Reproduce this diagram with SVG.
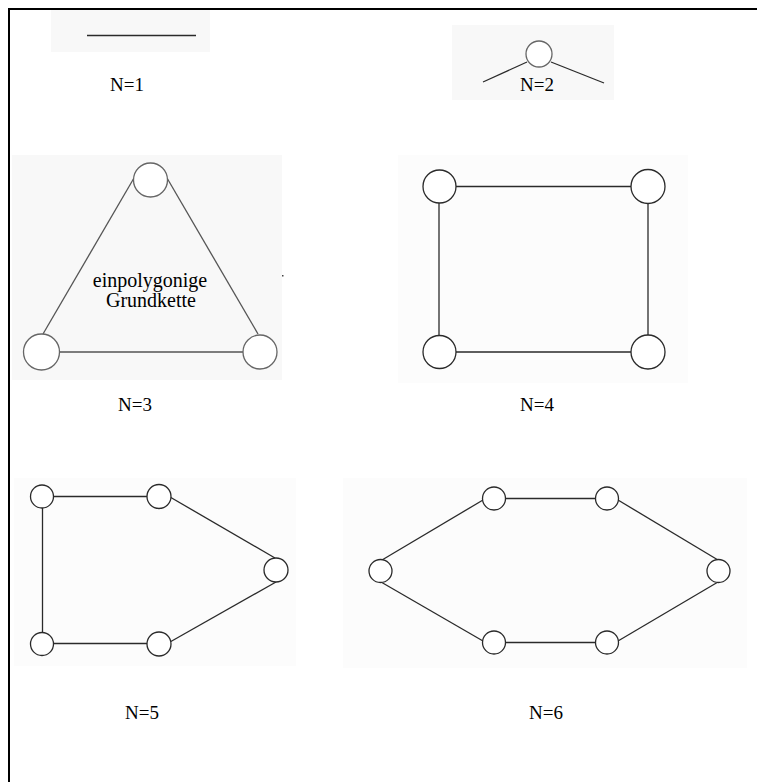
<svg xmlns="http://www.w3.org/2000/svg" width="757" height="782" viewBox="0 0 757 782">
  <style>
    .bg { fill: #f8f8f8; }
    .edge { stroke: #2a2a2a; stroke-width: 1.3; fill: none; }
    .edge.soft { stroke: #555; }
    .node { fill: #ffffff; stroke: #2a2a2a; stroke-width: 1.3; }
    .node.soft { stroke: #666; }
    .label { font-family: "Liberation Serif", "Times New Roman", serif; font-size: 19px; fill: #000; }
    .label.inner { font-size: 20px; }
  </style>

  <rect x="0" y="0" width="757" height="782" fill="#ffffff"/>

  <!-- frame: top and left rules -->
  <g id="frame">
    <line x1="9" y1="9" x2="757" y2="9" stroke="#000" stroke-width="2"/>
    <line x1="9" y1="8" x2="9" y2="782" stroke="#000" stroke-width="2"/>
  </g>

  <!-- pale panels behind the figures -->
  <g id="panels">
    <rect class="bg" x="51" y="10" width="159" height="42"/>
    <rect class="bg" x="452" y="25" width="162" height="75"/>
    <rect class="bg" x="12" y="155" width="270" height="225"/>
    <rect x="398" y="155" width="290" height="228" fill="#fcfcfc"/>
    <rect x="14" y="478" width="282" height="188" fill="#fcfcfc"/>
    <rect x="343" y="478" width="404" height="190" fill="#fcfcfc"/>
  </g>

  <!-- connectors -->
  <g id="connectors">
    <!-- N=1 -->
    <line class="edge" x1="87" y1="35.5" x2="196" y2="35.5" stroke="#777"/>
    <!-- N=2 -->
    <line class="edge" x1="483" y1="82" x2="527" y2="62"/>
    <line class="edge" x1="551" y1="62" x2="604" y2="83"/>
    <!-- N=3 -->
    <line class="edge soft" x1="43" y1="334" x2="134" y2="178"/>
    <line class="edge soft" x1="167" y1="178" x2="258" y2="334"/>
    <line class="edge soft" x1="60" y1="352" x2="243" y2="352"/>
    <!-- N=4 -->
    <line class="edge" x1="456" y1="186.5" x2="631" y2="186.5"/>
    <line class="edge" x1="439" y1="203" x2="439" y2="336"/>
    <line class="edge" x1="648" y1="203" x2="648" y2="336"/>
    <line class="edge" x1="456" y1="352" x2="631" y2="352"/>
    <!-- N=5 -->
    <line class="edge" x1="54" y1="496.5" x2="147" y2="496.5"/>
    <line class="edge" x1="42.5" y1="508" x2="42.5" y2="632"/>
    <line class="edge" x1="54" y1="643.5" x2="147" y2="643.5"/>
    <line class="edge" x1="170" y1="497" x2="275" y2="558"/>
    <line class="edge" x1="170" y1="642" x2="276" y2="582"/>
    <!-- N=6 -->
    <line class="edge" x1="505" y1="498.5" x2="596" y2="498.5"/>
    <line class="edge" x1="505" y1="642.5" x2="596" y2="642.5"/>
    <line class="edge" x1="483" y1="500" x2="382" y2="560"/>
    <line class="edge" x1="381" y1="582" x2="483" y2="641"/>
    <line class="edge" x1="618" y1="500" x2="718" y2="560"/>
    <line class="edge" x1="718" y1="582" x2="618" y2="641"/>
  </g>

  <!-- N=2 -->
  <g id="n2-node"><circle class="node soft" cx="539" cy="54" r="13"/></g>

  <!-- N=3 -->
  <g id="n3-top"><circle class="node soft" cx="150.5" cy="180" r="17"/></g>
  <g id="n3-left"><circle class="node soft" cx="41.5" cy="352" r="18"/></g>
  <g id="n3-right"><circle class="node soft" cx="260" cy="352" r="17"/></g>
  <rect x="282" y="275" width="1.5" height="1.5" fill="#444"/>
  <g id="n3-text">
    <text class="label inner" x="150" y="287" text-anchor="middle">einpolygonige</text>
    <text class="label inner" x="151" y="307" text-anchor="middle">Grundkette</text>
  </g>

  <!-- N=4 -->
  <g id="n4-tl"><circle class="node" cx="439.5" cy="186.5" r="16.5"/></g>
  <g id="n4-tr"><circle class="node" cx="648" cy="186.5" r="17"/></g>
  <g id="n4-bl"><circle class="node" cx="439.5" cy="352" r="16.5"/></g>
  <g id="n4-br"><circle class="node" cx="648" cy="352" r="17"/></g>

  <!-- N=5 -->
  <g id="n5-tl"><circle class="node" cx="42" cy="496.5" r="11.5"/></g>
  <g id="n5-tm"><circle class="node" cx="159" cy="496.5" r="12"/></g>
  <g id="n5-r"><circle class="node" cx="276" cy="570" r="12"/></g>
  <g id="n5-bl"><circle class="node" cx="42" cy="644" r="11.5"/></g>
  <g id="n5-bm"><circle class="node" cx="159" cy="644" r="12"/></g>

  <!-- N=6 -->
  <g id="n6-tl"><circle class="node" cx="494" cy="498.5" r="11.5"/></g>
  <g id="n6-tr"><circle class="node" cx="607" cy="498.5" r="11.5"/></g>
  <g id="n6-l"><circle class="node" cx="380.5" cy="571" r="11.5"/></g>
  <g id="n6-r"><circle class="node" cx="718.5" cy="571" r="11.5"/></g>
  <g id="n6-bl"><circle class="node" cx="494" cy="642.5" r="11.5"/></g>
  <g id="n6-br"><circle class="node" cx="607" cy="642.5" r="11.5"/></g>

  <!-- captions -->
  <g id="captions">
    <text class="label" x="127" y="91" text-anchor="middle">N=1</text>
    <text class="label" x="537" y="91" text-anchor="middle">N=2</text>
    <text class="label" x="135" y="411" text-anchor="middle">N=3</text>
    <text class="label" x="537" y="411" text-anchor="middle">N=4</text>
    <text class="label" x="142" y="719" text-anchor="middle">N=5</text>
    <text class="label" x="546" y="719" text-anchor="middle">N=6</text>
  </g>
</svg>
